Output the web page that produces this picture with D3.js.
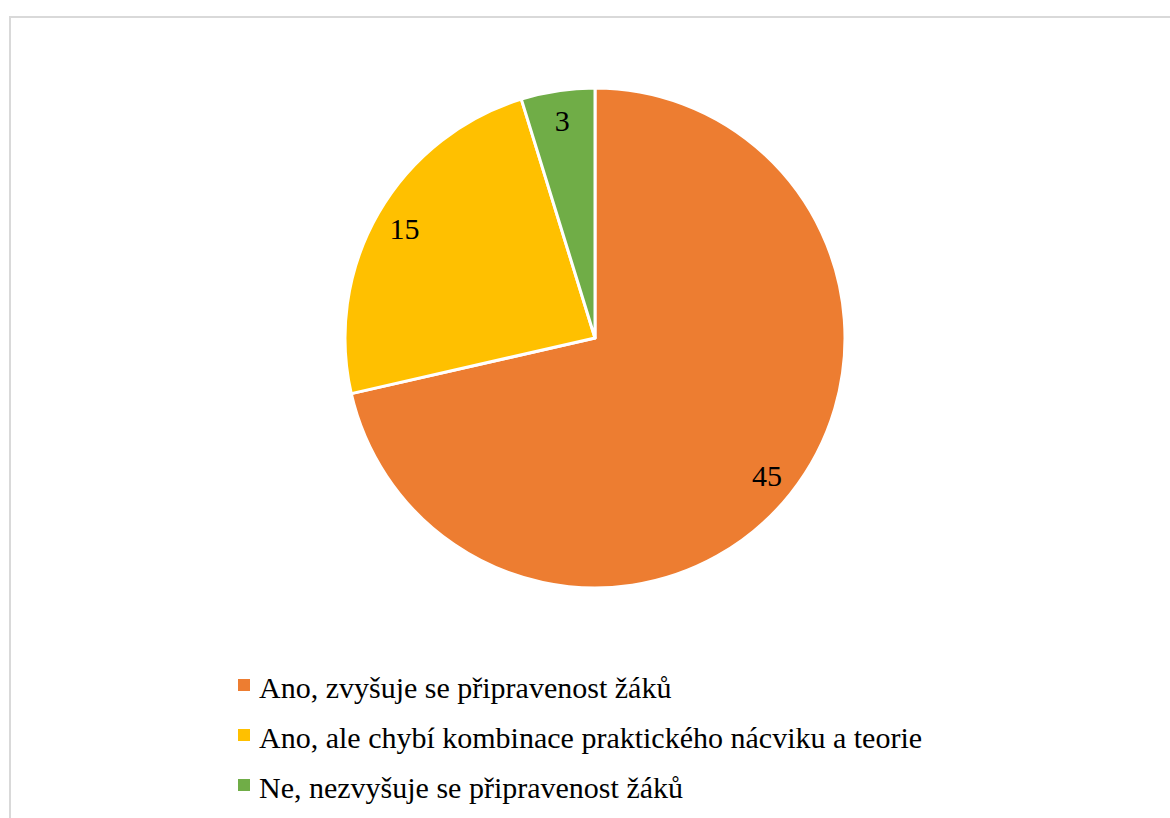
<!DOCTYPE html>
<html>
<head>
<meta charset="utf-8">
<script src="https://cdn.jsdelivr.net/npm/d3@7"></script>
</head>
<body style="margin:0">
<div id="chart"></div>
<script>
// pie data
let categories = ["Ano, zvyšuje se připravenost žáků",
                  "Ano, ale chybí kombinace praktického nácviku a teorie",
                  "Ne, nezvyšuje se připravenost žáků"];
let values = [45, 15, 3];
let colors = ['#ED7D31', '#FFC000', '#70AD47'];

let width = 1170, height = 818;
let cx = 595, cy = 338, radius = 250;
let fontFam = '"Liberation Serif", "Times New Roman", serif';

let svg = d3.select('#chart').append('svg')
    .attr('width', width)
    .attr('height', height);

// chart border
svg.append('rect')
    .attr('x', 10)
    .attr('y', 17)
    .attr('width', width + 20)
    .attr('height', height + 20)
    .attr('fill', '#fff')
    .attr('stroke', '#d9d9d9')
    .attr('stroke-width', 2);

let pie = d3.pie().sort(null).value(d => d.value);
let arcs = pie(values.map((v, i) => ({value: v, name: categories[i], i: i})));

let arc = d3.arc().innerRadius(0).outerRadius(radius);
let labelArc = d3.arc().innerRadius(radius * 0.88).outerRadius(radius * 0.88);

let g = svg.append('g').attr('transform', 'translate(' + cx + ',' + cy + ')');

g.selectAll('path')
    .data(arcs)
    .enter()
    .append('path')
    .attr('d', arc)
    .attr('fill', d => colors[d.data.i])
    .attr('stroke', '#fff')
    .attr('stroke-width', 3)
    .attr('stroke-linejoin', 'round');

// slice labels
svg.selectAll('text.lbl')
    .data(arcs)
    .enter()
    .append('text')
    .attr('class', 'lbl')
    .attr('x', d => cx + labelArc.centroid(d)[0])
    .attr('y', d => cy + labelArc.centroid(d)[1] + 11)
    .attr('text-anchor', 'middle')
    .attr('font-size', 30)
    .style('font-family', fontFam)
    .attr('fill', '#000')
    .text(d => d.data.value);

// legend
svg.selectAll('rect.key')
    .data(categories)
    .enter()
    .append('rect')
    .attr('class', 'key')
    .attr('x', 238)
    .attr('y', (d, i) => 679 + i * 50)
    .attr('width', 12)
    .attr('height', 12)
    .attr('fill', (d, i) => colors[i]);

svg.selectAll('text.key')
    .data(categories)
    .enter()
    .append('text')
    .attr('class', 'key')
    .attr('x', 259)
    .attr('y', (d, i) => 698 + i * 50)
    .attr('font-size', 30)
    .style('font-family', fontFam)
    .attr('fill', '#000')
    .text(d => d);
</script>
</body>
</html>
